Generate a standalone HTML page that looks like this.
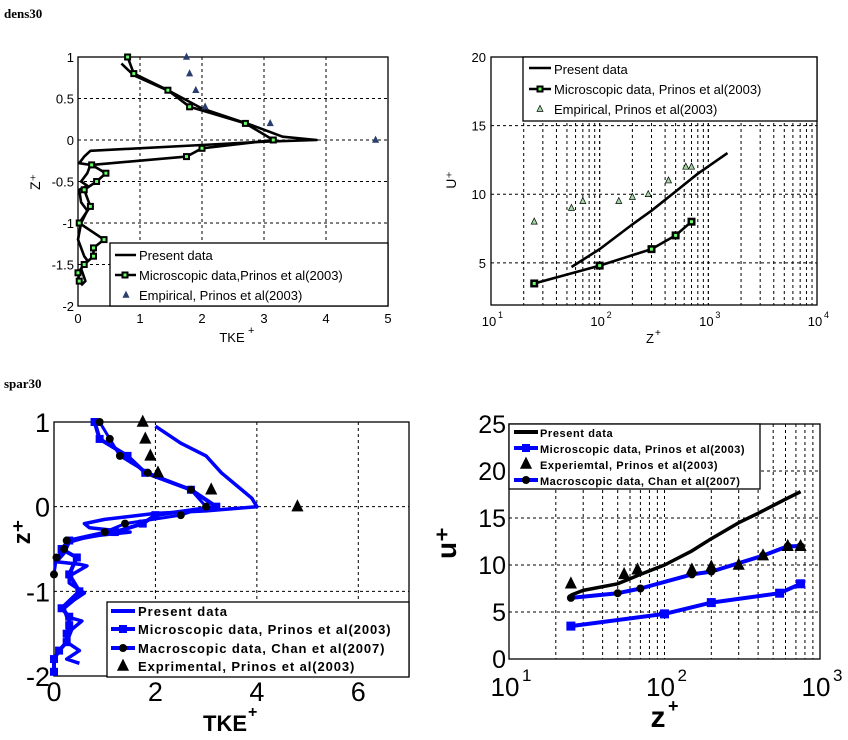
<!DOCTYPE html>
<html><head><meta charset="utf-8"><style>
body{margin:0;background:#fff;width:848px;height:740px;overflow:hidden}
svg{position:absolute;left:0;top:0}
text{font-family:"Liberation Sans",Arial,sans-serif}
</style></head><body>
<svg id="fig" width="848" height="740" xmlns="http://www.w3.org/2000/svg">
<text x="4" y="18" font-weight="bold" font-size="13" style="font-family:'Liberation Serif',serif">dens30</text>
<text x="4" y="388" font-weight="bold" font-size="13" style="font-family:'Liberation Serif',serif">spar30</text>
</svg>
<script>
// ---- Panel 1 data (dens30 TKE)
const p1MicroX=[0.8,0.9,1.45,1.8,2.7,3.15,2.0,1.75,0.22,0.45,0.3,0.1,0.2,0.02,0.42,0.25,0.25,0.1,0.0,0.02];
const p1MicroZ=[1,0.8,0.6,0.4,0.2,0,-0.1,-0.2,-0.3,-0.4,-0.5,-0.6,-0.8,-1,-1.2,-1.3,-1.4,-1.5,-1.6,-1.7];
const p1PresX=[0.7,0.9,1.5,2.0,2.8,3.3,3.85,3.0,2.0,0.2,0.1,0.02,0.2,0.15,0.05,0.15,0.02,0.05,0.15,0.05,0.0,0.1,0.15,0.05,0.12,0.05];
const p1PresZ=[0.92,0.78,0.58,0.38,0.18,0.04,0,-0.02,-0.06,-0.13,-0.2,-0.28,-0.3,-0.4,-0.5,-0.55,-0.6,-0.75,-0.85,-1,-1.2,-1.4,-1.45,-1.55,-1.7,-1.75];
const p1EmpX=[1.75,1.8,1.9,2.05,3.1,4.8];
const p1EmpZ=[1,0.8,0.6,0.4,0.2,0];
const p1XTicks=[0,1,2,3,4,5];
const p1YTicks=[1,0.5,0,-0.5,-1,-1.5,-2];
// ---- Panel 2 data (dens30 U+)
const p2MicroX=[25,100,300,500,700];
const p2MicroU=[3.5,4.8,6,7,8];
const p2PresX=[55,100,200,300,500,800,1500];
const p2PresU=[4.7,6,7.8,8.8,10.2,11.5,13];
const p2EmpX=[25,55,70,150,200,280,430,620,700];
const p2EmpU=[8,9,9.5,9.5,9.8,10,11,12,12];
const p2YTicks=[5,10,15,20];
// ---- Panel 3 data (spar30 TKE)
const p3PresX=[2,2.5,3.0,3.3,3.6,3.9,4.0,3.0,2,1.0,0.6,0.7,1.5,0.7,0.3,0.2,0.05,0.5,0.65,0.3,0.3,0.6,0.4,0.2,0.25,0.55,0.35,0.25,0.5,0.25,0.5];
const p3PresZ=[0.95,0.75,0.6,0.4,0.25,0.1,0,-0.05,-0.08,-0.15,-0.2,-0.25,-0.3,-0.35,-0.42,-0.55,-0.65,-0.68,-0.7,-0.82,-0.9,-1.02,-1.1,-1.2,-1.3,-1.35,-1.45,-1.6,-1.7,-1.8,-1.85];
const p3MicroX=[0.8,0.9,1.45,1.8,2.7,3.2,2.0,1.75,1.2,0.3,0.15,0.45,0.3,0.5,0.15,0.3,0.3,0.25,0.25,0.1,0.0,0.0];
const p3MicroZ=[1,0.8,0.6,0.4,0.2,0,-0.1,-0.2,-0.3,-0.4,-0.5,-0.6,-0.8,-1,-1.2,-1.3,-1.4,-1.5,-1.6,-1.7,-1.8,-1.95];
const p3MacroX=[0.9,1.1,1.3,1.85,2.7,3.0,2.5,1.4,1.0,0.25,0.2,0.05,0.0];
const p3MacroZ=[1,0.8,0.6,0.4,0.2,0,-0.1,-0.2,-0.3,-0.4,-0.5,-0.6,-0.8];
const p3ExpX=[1.75,1.8,1.9,2.05,3.1,4.8];
const p3ExpZ=[1,0.8,0.6,0.4,0.2,0];
const p3XTicks=[0,2,4,6];
const p3YTicks=[1,0,-1,-2];
// ---- Panel 4 data (spar30 U+)
const p4PresX=[25,30,50,70,100,150,200,300,400,600,750];
const p4PresU=[6.8,7.3,8,9,10,11.5,12.8,14.5,15.5,17,17.8];
const p4MicroX=[25,100,200,550,750];
const p4MicroU=[3.5,4.8,6,7,8];
const p4MacroX=[25,50,70,150,200,430,620,750];
const p4MacroU=[6.5,7,7.5,9,9.3,11,12,12];
const p4ExpX=[25,55,67,150,200,300,430,620,750];
const p4ExpU=[8,9,9.5,9.5,9.8,10,11,12,12];
const p4YTicks=[0,5,10,15,20,25];

const NS="http://www.w3.org/2000/svg";
const fig=document.getElementById('fig');
function mk(tag,attrs,parent){const e=document.createElementNS(NS,tag);for(const k in attrs)e.setAttribute(k,attrs[k]);(parent||fig).appendChild(e);return e;}
function lin(d0,d1,r0,r1){return v=>r0+(v-d0)/(d1-d0)*(r1-r0);}
function logs(d0,d1,r0,r1){return v=>r0+(Math.log10(v)-Math.log10(d0))/(Math.log10(d1)-Math.log10(d0))*(r1-r0);}
function poly(xs,ys,sx,sy,color,w,name){
  const p=mk('polyline',{points:xs.map((x,i)=>sx(x).toFixed(1)+','+sy(ys[i]).toFixed(1)).join(' '),fill:'none',stroke:color,'stroke-width':w,'stroke-linejoin':'round'});
  
  
}
function marks(xs,ys,sx,sy,kind,size,fill,stroke,name){
  xs.forEach((x,i)=>{const cx=sx(x),cy=sy(ys[i]);let e;
    if(kind==='sq')e=mk('rect',{x:cx-size/2,y:cy-size/2,width:size,height:size,fill:fill});
    else if(kind==='bsq'){e=mk('rect',{x:cx-size/2,y:cy-size/2,width:size,height:size,fill:'#000'});
      const g=mk('rect',{x:cx-1.5,y:cy-1.5,width:3,height:3,fill:'#6f6'});
      
      }
    else if(kind==='c')e=mk('circle',{cx:cx,cy:cy,r:size/2,fill:fill});
    else e=mk('polygon',{points:`${cx},${cy-size*0.6} ${cx-size/2},${cy+size*0.4} ${cx+size/2},${cy+size*0.4}`,fill:fill,stroke:stroke,'stroke-width':0.7});
    
    
  });
}
function gl(x1,y1,x2,y2,name){const l=mk('line',{x1:x1,y1:y1,x2:x2,y2:y2,stroke:'#000','stroke-width':1,'stroke-dasharray':'3,3'});
  
  }
function txt(x,y,s,size,anchor,bold,name,extra){const t=mk('text',Object.assign({x:x,y:y,'font-size':size,'text-anchor':anchor||'start','font-weight':bold?'bold':'normal'},extra||{}));t.textContent=s;
  
  return t;}
function box(x,y,w,h,name,sw){const r=mk('rect',{x:x,y:y,width:w,height:h,fill:'none',stroke:'#000','stroke-width':sw||1.3});
  
  }
function legbox(x,y,w,h,name){const r=mk('rect',{x:x,y:y,width:w,height:h,fill:'#fff',stroke:'#000','stroke-width':1.3});
  
  }
function logMinor(d0,d1,sx,y0,y1,name){for(let e=Math.log10(d0);e<Math.log10(d1);e++){for(let k=2;k<=10;k++){const v=k*Math.pow(10,e);if(v<=d0||v>=d1)continue;gl(sx(v),y0,sx(v),y1,name);}}}

// ===== Panel 1
{const L=78,R=388,T=57,B=306,sx=lin(0,5,L,R),sy=lin(-2,1,B,T);
 p1XTicks.forEach(v=>{if(v>0&&v<5)gl(sx(v),T,sx(v),B,'p1-x-grid');txt(sx(v),323,String(v),13,'middle',false,'p1-x-tick');});
 p1YTicks.forEach(v=>{if(v>-2&&v<1)gl(L,sy(v),R,sy(v),'p1-y-grid');txt(74,sy(v)+5,String(v),13,'end',false,'p1-y-tick');});
 box(L,T,R-L,B-T,'p1-plot-area');
 poly(p1PresX,p1PresZ,sx,sy,'#000',2.6,'p1-present-line');
 poly(p1MicroX,p1MicroZ,sx,sy,'#000',2.6,'p1-micro-line');
 marks(p1MicroX,p1MicroZ,sx,sy,'bsq',7,'#000','#000','p1-micro-marker');
 marks(p1EmpX,p1EmpZ,sx,sy,'tri',6,'#2a3f6e','#2a3f6e','p1-empirical-marker');
 legbox(110,243,278,63,'p1-legend');
 poly([115,136],[0,0],v=>v,()=>255,'#000',2.5,'p1-legend-present-line');
 txt(139,260,'Present data',13,'start',false,'p1-legend-present');
 poly([115,136],[0,0],v=>v,()=>275,'#000',2.5,'p1-legend-micro-line');
 marks([125],[275],v=>v,v=>v,'bsq',7,'#000','#000','p1-legend-micro-marker');
 txt(139,280,'Microscopic data,Prinos et al(2003)',13,'start',false,'p1-legend-micro');
 marks([126],[295],v=>v,v=>v,'tri',6,'#2a3f6e','#2a3f6e','p1-legend-empirical-marker');
 txt(139,300,'Empirical, Prinos et al(2003)',13,'start',false,'p1-legend-empirical');
 txt(232,342,'TKE',13,'middle',false,'p1-x-axis-title');txt(248,334,'+',11,'start',false,'p1-x-axis-title-sup');
 txt(0,0,'Z⁺',14,'middle',false,'p1-y-axis-title',{transform:'translate(40,182) rotate(-90)'});}

// ===== Panel 2
{const L=491,R=817,T=57,B=305,sx=logs(10,10000,L,R),sy=lin(1.93,20,B,T);
 logMinor(10,10000,sx,T,B,'p2-x-grid');
 [100,1000].forEach(v=>gl(sx(v),T,sx(v),B,'p2-x-grid'));
 p2YTicks.forEach(v=>{if(v<20)gl(L,sy(v),R,sy(v),'p2-y-grid');txt(486,sy(v)+5,String(v),13,'end',false,'p2-y-tick');});
 [1,2,3,4].forEach(e=>{const x=sx(Math.pow(10,e));txt(x-2,326,'10',13,'middle',false,'p2-x-tick');txt(x+7,318,String(e),9,'start',false,'p2-x-tick-exp');});
 box(L,T,R-L,B-T,'p2-plot-area');
 poly(p2PresX,p2PresU,sx,sy,'#000',2.6,'p2-present-line');
 poly(p2MicroX,p2MicroU,sx,sy,'#000',2.6,'p2-micro-line');
 marks(p2MicroX,p2MicroU,sx,sy,'bsq',8,'#000','#000','p2-micro-marker');
 marks(p2EmpX,p2EmpU,sx,sy,'tri',6,'#9fd9a0','#000','p2-empirical-marker');
 legbox(523,57,294,64,'p2-legend');
 poly([529,551],[0,0],v=>v,()=>68,'#000',2.5,'p2-legend-present-line');
 txt(554,74,'Present data',13,'start',false,'p2-legend-present');
 poly([529,551],[0,0],v=>v,()=>89,'#000',2.5,'p2-legend-micro-line');
 marks([540],[89],v=>v,v=>v,'bsq',7,'#000','#000','p2-legend-micro-marker');
 txt(554,94,'Microscopic data, Prinos et al(2003)',13,'start',false,'p2-legend-micro');
 marks([540],[109],v=>v,v=>v,'tri',6,'#9fd9a0','#000','p2-legend-empirical-marker');
 txt(554,114,'Empirical, Prinos et al(2003)',13,'start',false,'p2-legend-empirical');
 txt(650,343,'Z',13,'middle',false,'p2-x-axis-title');txt(655,336,'+',10,'start',false,'p2-x-axis-title-sup');
 txt(0,0,'U⁺',14,'middle',false,'p2-y-axis-title',{transform:'translate(456,180) rotate(-90)'});}

// ===== Panel 3
{const L=54,R=409,T=422,B=676,sx=lin(0,7,L,R),sy=lin(-2,1,B,T);
 p3XTicks.forEach(v=>{if(v>0)gl(sx(v),T,sx(v),B,'p3-x-grid');txt(sx(v),701,String(v),27,'middle',false,'p3-x-tick');});
 p3YTicks.forEach(v=>{if(v>-2&&v<1)gl(L,sy(v),R,sy(v),'p3-y-grid');txt(50,sy(v)+10,String(v),27,'end',false,'p3-y-tick');});
 box(L,T,R-L,B-T,'p3-plot-area');
 poly(p3PresX,p3PresZ,sx,sy,'#0000ff',3.5,'p3-present-line');
 poly(p3MicroX,p3MicroZ,sx,sy,'#0000ff',4,'p3-micro-line');
 marks(p3MicroX,p3MicroZ,sx,sy,'sq',8,'#0000ff','#0000ff','p3-micro-marker');
 poly(p3MacroX,p3MacroZ,sx,sy,'#0000ff',3,'p3-macro-line');
 marks(p3MacroX,p3MacroZ,sx,sy,'c',8,'#000','#000','p3-macro-marker');
 marks(p3ExpX,p3ExpZ,sx,sy,'tri',11,'#000','#000','p3-experimental-marker');
 legbox(107,602,302,75,'p3-legend');
 poly([111,135],[0,0],v=>v,()=>611,'#0000ff',4,'p3-legend-present-line');
 txt(138,616,'Present data',13,'start',true,'p3-legend-present',{'letter-spacing':'1'});
 poly([111,135],[0,0],v=>v,()=>629,'#0000ff',4,'p3-legend-micro-line');
 marks([123],[629],v=>v,v=>v,'sq',8,'#0000ff','#0000ff','p3-legend-micro-marker');
 txt(138,634,'Microscopic data, Prinos et al(2003)',13,'start',true,'p3-legend-micro',{'letter-spacing':'0.9'});
 poly([111,135],[0,0],v=>v,()=>648,'#0000ff',4,'p3-legend-macro-line');
 marks([123],[648],v=>v,v=>v,'c',8,'#000','#000','p3-legend-macro-marker');
 txt(138,653,'Macroscopic data, Chan et al(2007)',13,'start',true,'p3-legend-macro',{'letter-spacing':'0.9'});
 marks([123],[666],v=>v,v=>v,'tri',11,'#000','#000','p3-legend-exp-marker');
 txt(138,671,'Exprimental, Prinos et al(2003)',13,'start',true,'p3-legend-exp',{'letter-spacing':'0.9'});
 txt(225,731,'TKE',22,'middle',true,'p3-x-axis-title');txt(248,717,'+',16,'start',true,'p3-x-axis-title-sup');
 txt(0,0,'z⁺',24,'middle',true,'p3-y-axis-title',{transform:'translate(30,532) rotate(-90)'});}

// ===== Panel 4
{const L=509,R=820,T=424,B=659,sx=logs(10,1000,L,R),sy=lin(0,25,B,T);
 logMinor(10,1000,sx,T,B,'p4-x-grid');
 p4YTicks.forEach(v=>{if(v>0&&v<25)gl(L,sy(v),R,sy(v),'p4-y-grid');txt(506,sy(v)+9,String(v),25,'end',false,'p4-y-tick');});
 [1,2,3].forEach(e=>{const x=sx(Math.pow(10,e));txt(x-4,696,'10',26,'middle',false,'p4-x-tick');txt(x+13,681,String(e),17,'start',false,'p4-x-tick-exp');});
 box(L,T,R-L,B-T,'p4-plot-area');
 poly(p4PresX,p4PresU,sx,sy,'#000',3.5,'p4-present-line');
 poly(p4MicroX,p4MicroU,sx,sy,'#0000ff',4,'p4-micro-line');
 marks(p4MicroX,p4MicroU,sx,sy,'sq',9,'#0000ff','#0000ff','p4-micro-marker');
 poly(p4MacroX,p4MacroU,sx,sy,'#0000ff',4,'p4-macro-line');
 marks(p4MacroX,p4MacroU,sx,sy,'c',8,'#000','#000','p4-macro-marker');
 marks(p4ExpX,p4ExpU,sx,sy,'tri',11,'#000','#000','p4-experimental-marker');
 legbox(509,424,251,65,'p4-legend');
 poly([514,538],[0,0],v=>v,()=>432,'#000',4,'p4-legend-present-line');
 txt(540,437,'Present data',11,'start',true,'p4-legend-present',{'letter-spacing':'0.6'});
 poly([514,538],[0,0],v=>v,()=>448,'#0000ff',4,'p4-legend-micro-line');
 marks([526],[448],v=>v,v=>v,'sq',8,'#0000ff','#0000ff','p4-legend-micro-marker');
 txt(540,453,'Microscopic data, Prinos et al(2003)',11,'start',true,'p4-legend-micro',{'letter-spacing':'0.5'});
 marks([526],[464],v=>v,v=>v,'tri',11,'#000','#000','p4-legend-exp-marker');
 txt(540,469,'Experiemtal, Prinos et al(2003)',11,'start',true,'p4-legend-exp',{'letter-spacing':'0.6'});
 poly([514,538],[0,0],v=>v,()=>480,'#0000ff',4,'p4-legend-macro-line');
 marks([526],[480],v=>v,v=>v,'c',8,'#000','#000','p4-legend-macro-marker');
 txt(540,485,'Macroscopic data, Chan et al(2007)',11,'start',true,'p4-legend-macro',{'letter-spacing':'0.5'});
 txt(658,727,'z',30,'middle',true,'p4-x-axis-title');txt(668,712,'+',18,'start',true,'p4-x-axis-title-sup');
 txt(0,0,'u⁺',28,'middle',true,'p4-y-axis-title',{transform:'translate(456,543) rotate(-90)'});}
</script>
</body></html>
